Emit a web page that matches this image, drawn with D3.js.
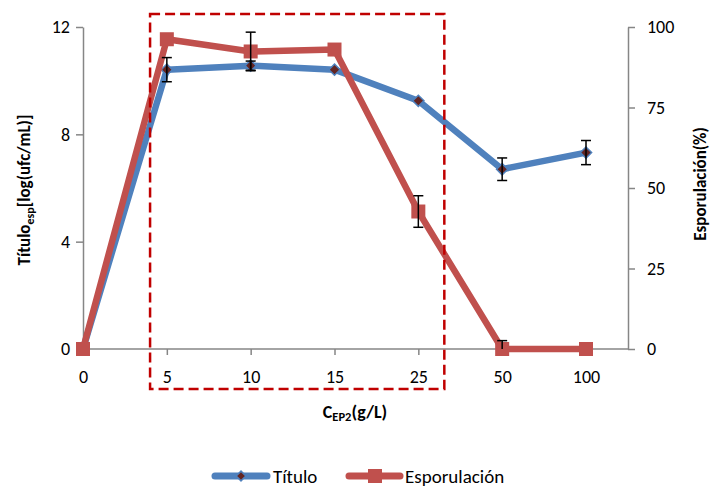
<!DOCTYPE html>
<html>
<head>
<meta charset="utf-8">
<script src="https://cdn.jsdelivr.net/npm/d3@7"></script>
<style>
  body { margin: 0; background: #fff; }
  text { font-family: Carlito, Lato, "Open Sans", sans-serif; }
</style>
</head>
<body>
<div id="chart"></div>
<script>
// data
const categories = ["0", "5", "10", "15", "25", "50", "100"];
const tituloValues = [0, 10.41, 10.56, 10.41, 9.25, 6.7, 7.32];
const tituloErrors = [0, 0.45, 0.17, 0, 0, 0.42, 0.45];
const esporValues = [0, 96.2, 92.4, 93.0, 42.7, 0, 0];
const esporErrors = [0, 0, 6, 0, 4.9, 2.6, 0];
const leftTicks = [0, 4, 8, 12];
const rightTicks = [0, 25, 50, 75, 100];
// dashed box spans categories 5..25
const boxFrom = "5", boxTo = "25";

const width = 713, height = 486;
const margin = { top: 27, right: 85, bottom: 137, left: 83 };
const plotRight = width - margin.right;   // right axis position
const lastPoint = 586;

const svg = d3.select("#chart").append("svg")
    .attr("width", width)
    .attr("height", height);

const x = d3.scalePoint()
    .domain(categories)
    .range([margin.left, lastPoint]);

const yLeft = d3.scaleLinear()
    .domain([0, 12])
    .range([height - margin.bottom, margin.top]);

const yRight = d3.scaleLinear()
    .domain([0, 100])
    .range([height - margin.bottom, margin.top]);

const axisColor = "#868686";
const tickFont = "18px";

// axes
const xAxis = svg.append("g")
    .attr("transform", `translate(0,${yLeft(0)})`)
    .call(d3.axisBottom(x).tickSize(6).tickSizeOuter(0));
xAxis.select(".domain").remove();
xAxis.append("line")
    .attr("x1", margin.left).attr("x2", plotRight)
    .attr("stroke", axisColor).attr("stroke-width", 1.5);

const leftAxis = svg.append("g")
    .attr("transform", `translate(${margin.left},0)`)
    .call(d3.axisLeft(yLeft).tickValues(leftTicks).tickSize(7).tickSizeOuter(0).tickPadding(6));

const rightAxis = svg.append("g")
    .attr("transform", `translate(${plotRight},0)`)
    .call(d3.axisRight(yRight).tickValues(rightTicks).tickSize(7).tickSizeOuter(0).tickPadding(12));

[xAxis, leftAxis, rightAxis].forEach(g => {
    g.selectAll(".domain").attr("stroke", axisColor).attr("stroke-width", 1.5);
    g.selectAll(".tick line").attr("stroke", axisColor).attr("stroke-width", 1.5);
    g.selectAll(".tick text").attr("fill", "#000").style("font-size", tickFont);
});
xAxis.selectAll(".tick text").attr("dy", "1.4em");

// axis titles
const leftTitle = svg.append("text")
    .attr("transform", `translate(30,190) rotate(-90)`)
    .attr("text-anchor", "middle")
    .style("font-size", "17px")
    .style("font-weight", "bold");
leftTitle.append("tspan").text("Título");
leftTitle.append("tspan").text("esp").style("font-size", "12px").attr("dy", 4);
leftTitle.append("tspan").text("[log(ufc/mL)]").attr("dy", -4);

svg.append("text")
    .attr("transform", `translate(706,184) rotate(-90)`)
    .attr("text-anchor", "middle")
    .style("font-size", "17px")
    .style("font-weight", "bold")
    .text("Esporulación(%)");

const xTitle = svg.append("text")
    .attr("x", 355).attr("y", 418)
    .attr("text-anchor", "middle")
    .style("font-size", "18px")
    .style("font-weight", "bold");
xTitle.append("tspan").text("C");
xTitle.append("tspan").text("EP2").style("font-size", "12.5px").attr("dy", 3);
xTitle.append("tspan").text("(g/L)").attr("dy", -3);

// series
const blue = "#4F81BD", red = "#C0504D";
const tituloData = categories.map((c, i) => ({ c, v: tituloValues[i], e: tituloErrors[i] }));
const esporData = categories.map((c, i) => ({ c, v: esporValues[i], e: esporErrors[i] }));

const tituloLine = d3.line().x(d => x(d.c)).y(d => yLeft(d.v));
const esporLine = d3.line().x(d => x(d.c)).y(d => yRight(d.v));

svg.append("path")
    .datum(tituloData)
    .attr("d", tituloLine)
    .attr("fill", "none")
    .attr("stroke", blue)
    .attr("stroke-width", 6.5)
    .attr("stroke-linejoin", "round");

svg.selectAll(".diamond")
    .data(tituloData)
    .enter().append("path")
    .attr("class", "diamond")
    .attr("d", d3.symbol(d3.symbolDiamond2, 80))
    .attr("transform", d => `translate(${x(d.c)},${yLeft(d.v)})`)
    .attr("fill", "#632523")
    .attr("stroke", blue)
    .attr("stroke-width", 1.5);

svg.append("path")
    .datum(esporData)
    .attr("d", esporLine)
    .attr("fill", "none")
    .attr("stroke", red)
    .attr("stroke-width", 6.5)
    .attr("stroke-linejoin", "round");

svg.selectAll(".square")
    .data(esporData)
    .enter().append("rect")
    .attr("class", "square")
    .attr("x", d => x(d.c) - 7)
    .attr("y", d => yRight(d.v) - 7)
    .attr("width", 14)
    .attr("height", 14)
    .attr("fill", red);

// error bars
function errorBars(data, scale) {
    const g = svg.append("g").attr("stroke", "#000").attr("stroke-width", 1.5);
    data.filter(d => d.e > 0).forEach(d => {
        const cx = x(d.c);
        const top = scale(d.v + d.e);
        const bot = scale(Math.max(0, d.v - d.e));
        g.append("line").attr("x1", cx).attr("x2", cx).attr("y1", top).attr("y2", bot);
        g.append("line").attr("x1", cx - 5).attr("x2", cx + 5).attr("y1", top).attr("y2", top);
        if (d.v - d.e > 0)
            g.append("line").attr("x1", cx - 5).attr("x2", cx + 5).attr("y1", bot).attr("y2", bot);
    });
}
errorBars(tituloData, yLeft);
errorBars(esporData, yRight);

// dashed highlight box
const step = x.step();
svg.append("rect")
    .attr("x", x(boxFrom) - 0.2 * step)
    .attr("y", 14)
    .attr("width", (x(boxTo) + 0.31 * step) - (x(boxFrom) - 0.2 * step))
    .attr("height", 375)
    .attr("fill", "none")
    .attr("stroke", "#C00000")
    .attr("stroke-width", 2.5)
    .attr("stroke-dasharray", "10,5");

// legend
const legend = svg.append("g").attr("transform", "translate(0,476)");
legend.append("line")
    .attr("x1", 215).attr("x2", 267)
    .attr("stroke", blue).attr("stroke-width", 7).attr("stroke-linecap", "round");
legend.append("path")
    .attr("d", d3.symbol(d3.symbolDiamond2, 60))
    .attr("transform", "translate(241,0)")
    .attr("fill", "#632523").attr("stroke", blue).attr("stroke-width", 1.5);
legend.append("text").attr("x", 273).attr("y", 6.5).style("font-size", "19px").text("Título");

legend.append("line")
    .attr("x1", 349).attr("x2", 400)
    .attr("stroke", red).attr("stroke-width", 7).attr("stroke-linecap", "round");
legend.append("rect")
    .attr("x", 368).attr("y", -7).attr("width", 14).attr("height", 14).attr("fill", red);
legend.append("text").attr("x", 405).attr("y", 6.5).style("font-size", "19px").text("Esporulación");
</script>
</body>
</html>
